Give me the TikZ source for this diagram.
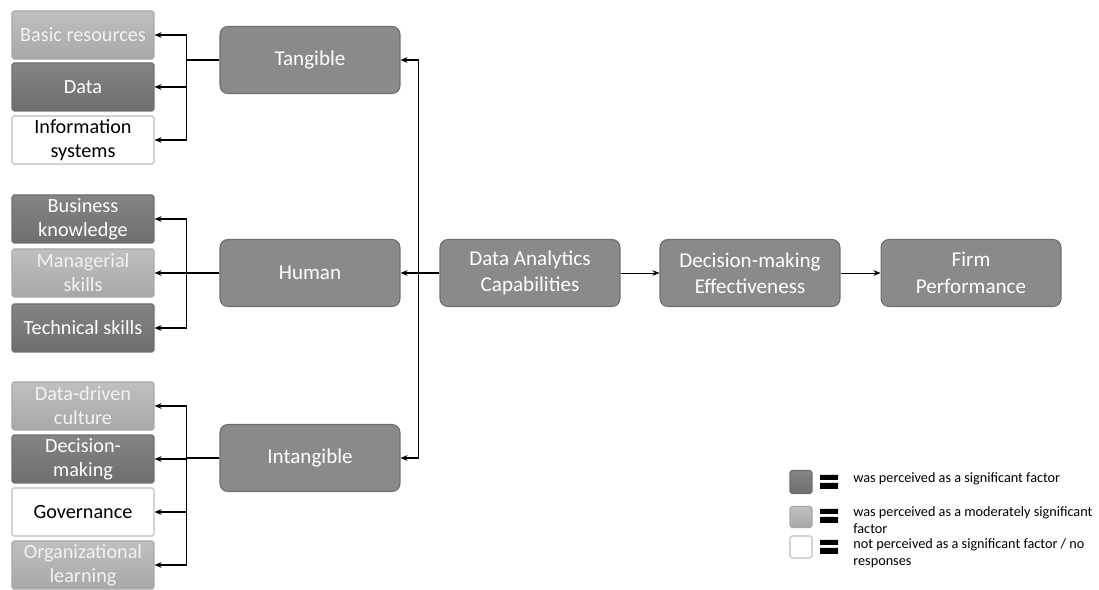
\documentclass[tikz,border=0pt]{standalone}
\usepackage{fontspec}
\setmainfont{Carlito}
\usetikzlibrary{
		positioning,
		arrows.meta
	}
\definecolor{darkbox}{HTML}{8A8A8A}
\definecolor{darkedge}{HTML}{6E6E6E}
\definecolor{lightbox}{HTML}{B9B9B9}
\definecolor{lightedge}{HTML}{A8A8A8}
\definecolor{paleedge}{HTML}{BDBDBD}
\tikzset{
		>={Stealth[length=4pt,width=3.2pt]},
		link/.style={->,line width=0.7pt},
		block/.style={draw=darkedge,fill=darkbox,rounded corners=4.5pt,line width=0.6pt,
			minimum width=3.6cm,minimum height=1.34cm,inner sep=0pt,align=center,
			text=white,font=\fontsize{12}{15}\selectfont},
		factor/.style={rounded corners=1pt,line width=0.6pt,minimum width=2.84cm,
			minimum height=0.96cm,inner sep=0pt,align=center,font=\fontsize{11.5}{13.6}\selectfont},
		strong/.style={factor,draw=darkedge,top color=darkbox!105,bottom color=darkedge,text=white},
		moderate/.style={factor,draw=lightedge,top color=lightbox!90!white,bottom color=lightedge,text=white!95!black},
		none/.style={factor,draw=paleedge,fill=white,text=black},
		legtext/.style={anchor=west,align=left,inner sep=0pt,font=\fontsize{8.1}{9.4}\selectfont}
	}
\tikzset{pics/eqsign/.style={code={ \fill (0,-7) rectangle (18,-2) (0,1) rectangle (18,7); }}}

\begin{document}
\begin{tikzpicture}[x=0.02cm, y=-0.02cm] % one unit = 0.2mm, y axis pointing down
	\useasboundingbox (0,0) rectangle (1099,590);

	% main chain
	\node[block] (dac) at (530,273) {Data Analytics\\Capabilities};
	\node[block] (dme) at (750,273) {Decision-making\\Effectiveness};
	\node[block] (firm) at (971,273) {Firm\\Performance};
	\draw[link,line width=0.5pt] (dac) -- (dme);
	\draw[link,line width=0.5pt] (dme) -- (firm);

	% the three resource groups
	\node[block] (tang) at (310,60) {Tangible};
	\node[block] (human) at (310,273) {Human};
	\node[block] (intang) at (310,458) {Intangible};
	\foreach \g in {tang,human,intang}
		\draw[link] (dac.west) -- ++(-21,0) |- (\g.east);

	% single factors, shaded by how significant they were found
	\foreach \n/\y/\s/\t in {
			basic/35/moderate/{Basic resources},
			data/87/strong/{Data},
			infosys/140/none/{Information\\systems},
			business/219/strong/{Business\\knowledge},
			manager/273/moderate/{Managerial\\skills},
			technic/328/strong/{Technical skills},
			culture/406/moderate/{Data-driven\\culture},
			decision/459/strong/{Decision-\\making},
			govern/512/none/{Governance},
			learning/565/moderate/{Organizational\\learning}}
		\node[\s] (\n) at (83,\y) {\t};

	\foreach \f in {basic,data,infosys}
		\draw[link] (tang.west) -- ++(-33,0) |- (\f.east);
	\foreach \f in {business,manager,technic}
		\draw[link] (human.west) -- ++(-33,0) |- (\f.east);
	\foreach \f in {culture,decision,govern,learning}
		\draw[link] (intang.west) -- ++(-33,0) |- (\f.east);

	% legend
	\node[strong,minimum width=0.44cm,minimum height=0.46cm] (key1) at (801,482) {};
	\node[moderate,minimum width=0.44cm,minimum height=0.42cm] (key2) at (801,517) {};
	\node[none,minimum width=0.44cm,minimum height=0.44cm] (key3) at (801,547) {};
	\foreach \k/\y in {1/482,2/516,3/547}
		\pic at (820,\y) {eqsign};
	\node[legtext] (lt1) at (853,479) {was perceived as a significant factor};
	\node[legtext] (lt2) at (853,520) {was perceived as a moderately significant\\factor};
	\node[legtext] (lt3) at (853,553) {not perceived as a significant factor / no\\responses};
\end{tikzpicture}
\end{document}
